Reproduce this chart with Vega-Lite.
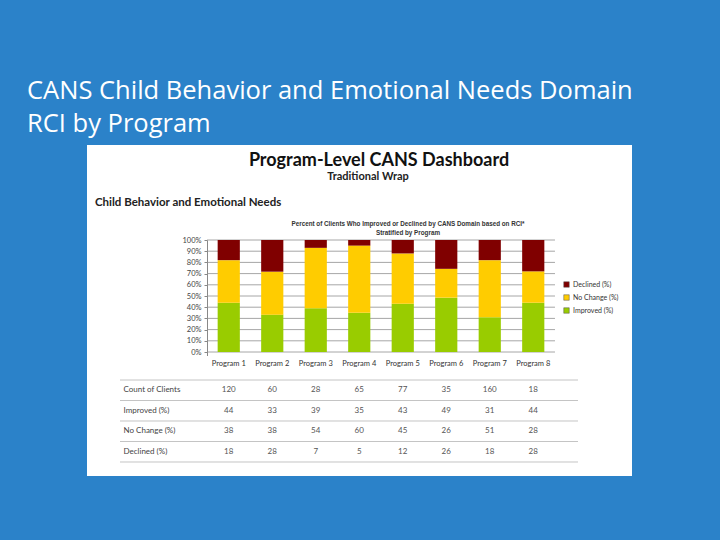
{
  "$schema": "https://vega.github.io/schema/vega-lite/v6.json",
  "background": "#2b82c9",
  "padding": {"left": 27, "top": 78, "right": 88, "bottom": 65},
  "title": {
    "text": ["CANS Child Behavior and Emotional Needs Domain", "RCI by Program"],
    "anchor": "start",
    "dx": -60,
    "color": "#ffffff",
    "font": "Open Sans",
    "fontSize": 25.5,
    "fontWeight": "normal",
    "lineHeight": 33,
    "offset": 8
  },
  "config": {
    "view": {"fill": "#ffffff", "stroke": null},
    "concat": {"spacing": 0},
    "font": "Lato"
  },
  "datasets": {
    "header": [
      {"part": "main", "text": "Program-Level CANS Dashboard"},
      {"part": "sub", "text": "Traditional Wrap"},
      {"part": "section", "text": "Child Behavior and Emotional Needs"},
      {"part": "ctitle", "text": ["Percent of Clients Who Improved or Declined by CANS Domain based on RCI*", "Stratified by Program"]}
    ],
    "grid": [
      {"v": 0}, {"v": 0.1}, {"v": 0.2}, {"v": 0.3}, {"v": 0.4}, {"v": 0.5},
      {"v": 0.6}, {"v": 0.7}, {"v": 0.8}, {"v": 0.9}, {"v": 1}
    ],
    "bars": [
      {"program": "Program 1", "status": "Improved (%)", "pct": 44},
      {"program": "Program 1", "status": "No Change (%)", "pct": 38},
      {"program": "Program 1", "status": "Declined (%)", "pct": 18},
      {"program": "Program 2", "status": "Improved (%)", "pct": 33},
      {"program": "Program 2", "status": "No Change (%)", "pct": 38},
      {"program": "Program 2", "status": "Declined (%)", "pct": 28},
      {"program": "Program 3", "status": "Improved (%)", "pct": 39},
      {"program": "Program 3", "status": "No Change (%)", "pct": 54},
      {"program": "Program 3", "status": "Declined (%)", "pct": 7},
      {"program": "Program 4", "status": "Improved (%)", "pct": 35},
      {"program": "Program 4", "status": "No Change (%)", "pct": 60},
      {"program": "Program 4", "status": "Declined (%)", "pct": 5},
      {"program": "Program 5", "status": "Improved (%)", "pct": 43},
      {"program": "Program 5", "status": "No Change (%)", "pct": 45},
      {"program": "Program 5", "status": "Declined (%)", "pct": 12},
      {"program": "Program 6", "status": "Improved (%)", "pct": 49},
      {"program": "Program 6", "status": "No Change (%)", "pct": 26},
      {"program": "Program 6", "status": "Declined (%)", "pct": 26},
      {"program": "Program 7", "status": "Improved (%)", "pct": 31},
      {"program": "Program 7", "status": "No Change (%)", "pct": 51},
      {"program": "Program 7", "status": "Declined (%)", "pct": 18},
      {"program": "Program 8", "status": "Improved (%)", "pct": 44},
      {"program": "Program 8", "status": "No Change (%)", "pct": 28},
      {"program": "Program 8", "status": "Declined (%)", "pct": 28}
    ],
    "table": [
      {"program": "Program 1", "measure": "Count of Clients", "value": 120},
      {"program": "Program 2", "measure": "Count of Clients", "value": 60},
      {"program": "Program 3", "measure": "Count of Clients", "value": 28},
      {"program": "Program 4", "measure": "Count of Clients", "value": 65},
      {"program": "Program 5", "measure": "Count of Clients", "value": 77},
      {"program": "Program 6", "measure": "Count of Clients", "value": 35},
      {"program": "Program 7", "measure": "Count of Clients", "value": 160},
      {"program": "Program 8", "measure": "Count of Clients", "value": 18},
      {"program": "Program 1", "measure": "Improved (%)", "value": 44},
      {"program": "Program 2", "measure": "Improved (%)", "value": 33},
      {"program": "Program 3", "measure": "Improved (%)", "value": 39},
      {"program": "Program 4", "measure": "Improved (%)", "value": 35},
      {"program": "Program 5", "measure": "Improved (%)", "value": 43},
      {"program": "Program 6", "measure": "Improved (%)", "value": 49},
      {"program": "Program 7", "measure": "Improved (%)", "value": 31},
      {"program": "Program 8", "measure": "Improved (%)", "value": 44},
      {"program": "Program 1", "measure": "No Change (%)", "value": 38},
      {"program": "Program 2", "measure": "No Change (%)", "value": 38},
      {"program": "Program 3", "measure": "No Change (%)", "value": 54},
      {"program": "Program 4", "measure": "No Change (%)", "value": 60},
      {"program": "Program 5", "measure": "No Change (%)", "value": 45},
      {"program": "Program 6", "measure": "No Change (%)", "value": 26},
      {"program": "Program 7", "measure": "No Change (%)", "value": 51},
      {"program": "Program 8", "measure": "No Change (%)", "value": 28},
      {"program": "Program 1", "measure": "Declined (%)", "value": 18},
      {"program": "Program 2", "measure": "Declined (%)", "value": 28},
      {"program": "Program 3", "measure": "Declined (%)", "value": 7},
      {"program": "Program 4", "measure": "Declined (%)", "value": 5},
      {"program": "Program 5", "measure": "Declined (%)", "value": 12},
      {"program": "Program 6", "measure": "Declined (%)", "value": 26},
      {"program": "Program 7", "measure": "Declined (%)", "value": 18},
      {"program": "Program 8", "measure": "Declined (%)", "value": 28}
    ]
  },
  "spacing": 0,
  "bounds": "flush",
  "resolve": {"scale": {"x": "independent", "y": "independent", "color": "independent"}},
  "vconcat": [
    {
      "width": 545,
      "height": 95,
      "data": {"name": "header"},
      "layer": [
        {
          "transform": [{"filter": "datum.part == 'main'"}],
          "mark": {"type": "text", "font": "Lato", "fontSize": 18, "fontWeight": "bold", "fill": "#111111", "dx": 19.5, "baseline": "middle"},
          "encoding": {
            "y": {"field": "part", "type": "nominal", "scale": {"type": "point", "domain": ["main", "sub", "section", "ctitle"], "padding": 0.728}, "axis": null},
            "text": {"field": "text"}
          }
        },
        {
          "transform": [{"filter": "datum.part == 'sub'"}],
          "mark": {"type": "text", "font": "Lato", "fontSize": 11, "fontWeight": "bold", "fill": "#222222", "dx": 8.5, "dy": -5, "baseline": "middle"},
          "encoding": {
            "y": {"field": "part", "type": "nominal", "scale": {"type": "point", "domain": ["main", "sub", "section", "ctitle"], "padding": 0.728}, "axis": null},
            "text": {"field": "text"}
          }
        },
        {
          "transform": [{"filter": "datum.part == 'section'"}],
          "mark": {"type": "text", "font": "Lato", "fontSize": 11.5, "fontWeight": "bold", "fill": "#222222", "align": "left", "dx": -264.5, "baseline": "middle"},
          "encoding": {
            "y": {"field": "part", "type": "nominal", "scale": {"type": "point", "domain": ["main", "sub", "section", "ctitle"], "padding": 0.728}, "axis": null},
            "text": {"field": "text"}
          }
        },
        {
          "transform": [{"filter": "datum.part == 'ctitle'"}],
          "mark": {"type": "text", "font": "Liberation Sans", "fontSize": 6.3, "fontWeight": "bold", "fill": "#333333", "dx": 48.5, "baseline": "middle", "lineHeight": 9},
          "encoding": {
            "y": {"field": "part", "type": "nominal", "scale": {"type": "point", "domain": ["main", "sub", "section", "ctitle"], "padding": 0.728}, "axis": null},
            "text": {"field": "text"}
          }
        }
      ]
    },
    {
      "width": 545,
      "height": 116,
      "layer": [
        {
          "data": {"name": "grid"},
          "mark": {"type": "rule", "color": "#8f8f8f", "strokeWidth": 0.8},
          "encoding": {
            "x": {"datum": "Program 1", "type": "nominal", "bandPosition": -0.48,
                  "scale": {"type": "band", "domain": ["Program 1", "Program 2", "Program 3", "Program 4", "Program 5", "Program 6", "Program 7", "Program 8"], "range": [120, 468], "paddingInner": 0.49, "paddingOuter": 0.245},
                  "axis": null},
            "x2": {"datum": "Program 8", "bandPosition": 1.48},
            "y": {"field": "v", "type": "quantitative", "scale": {"domain": [-0.0357, 1], "nice": false, "zero": false},
                  "axis": {"offset": -120, "values": [0, 0.1, 0.2, 0.3, 0.4, 0.5, 0.6, 0.7, 0.8, 0.9, 1], "format": ".0%", "grid": false, "title": null, "labelFont": "Lato", "labelFontSize": 7.5, "labelColor": "#444444", "tickSize": 3, "tickColor": "#888888", "domainColor": "#888888", "labelPadding": 3}}
          }
        },
        {
          "data": {"name": "bars"},
          "transform": [{"calculate": "indexof(['Improved (%)', 'No Change (%)', 'Declined (%)'], datum.status)", "as": "stackOrder"}],
          "mark": {"type": "bar"},
          "encoding": {
            "x": {"field": "program", "type": "nominal",
                  "scale": {"type": "band", "domain": ["Program 1", "Program 2", "Program 3", "Program 4", "Program 5", "Program 6", "Program 7", "Program 8"], "range": [120, 468], "paddingInner": 0.49, "paddingOuter": 0.245},
                  "axis": null},
            "y": {"field": "pct", "type": "quantitative", "stack": "normalize", "scale": {"domain": [-0.0357, 1], "nice": false, "zero": false},
                  "axis": {"offset": -120, "values": [0, 0.1, 0.2, 0.3, 0.4, 0.5, 0.6, 0.7, 0.8, 0.9, 1], "format": ".0%", "grid": false, "title": null, "labelFont": "Lato", "labelFontSize": 7.5, "labelColor": "#444444", "tickSize": 3, "tickColor": "#888888", "domainColor": "#888888", "labelPadding": 3}},
            "order": {"field": "stackOrder", "type": "quantitative", "sort": "ascending"},
            "color": {"field": "status", "type": "nominal",
                      "scale": {"domain": ["Declined (%)", "No Change (%)", "Improved (%)"], "range": ["#800000", "#ffcc00", "#99cc00"]},
                      "legend": {"orient": "none", "legendX": 476, "legendY": 41, "title": null, "values": ["Declined (%)", "No Change (%)", "Improved (%)"], "symbolType": "square", "symbolSize": 30, "symbolStrokeColor": "#555555", "symbolStrokeWidth": 0.5, "labelFont": "Lato", "labelFontSize": 7, "labelColor": "#333333", "rowPadding": 4, "labelOffset": 3}}
          }
        }
      ]
    },
    {
      "width": 545,
      "height": 120,
      "data": {"name": "table"},
      "layer": [
        {
          "transform": [{"filter": "datum.program == 'Program 1'"}],
          "mark": {"type": "rule", "color": "#c4c4c4", "strokeWidth": 1},
          "encoding": {
            "x": {"datum": "Program 1", "type": "nominal", "bandPosition": -4.402,
                  "scale": {"type": "band", "domain": ["Program 1", "Program 2", "Program 3", "Program 4", "Program 5", "Program 6", "Program 7", "Program 8"], "range": [120, 468], "paddingInner": 0.49, "paddingOuter": 0.245},
                  "axis": null},
            "x2": {"datum": "Program 8", "bandPosition": 2.517},
            "y": {"field": "measure", "type": "nominal", "bandPosition": 0,
                  "scale": {"type": "band", "domain": ["Program", "Count of Clients", "Improved (%)", "No Change (%)", "Declined (%)"], "paddingInner": 0, "paddingOuter": 0.427, "align": 0.2},
                  "axis": {"orient": "left", "offset": -36, "labelAlign": "left", "labelPadding": 0, "ticks": false, "tickSize": 0, "domain": false, "grid": false, "title": null, "values": ["Count of Clients", "Improved (%)", "No Change (%)", "Declined (%)"], "labelFont": "Lato", "labelFontSize": 8, "labelColor": "#444444", "labelBaseline": "middle"}}
          }
        },
        {
          "transform": [{"filter": "datum.program == 'Program 1' && datum.measure == 'Declined (%)'"}],
          "mark": {"type": "rule", "color": "#c4c4c4", "strokeWidth": 1},
          "encoding": {
            "x": {"datum": "Program 1", "type": "nominal", "bandPosition": -4.402,
                  "scale": {"type": "band", "domain": ["Program 1", "Program 2", "Program 3", "Program 4", "Program 5", "Program 6", "Program 7", "Program 8"], "range": [120, 468], "paddingInner": 0.49, "paddingOuter": 0.245},
                  "axis": null},
            "x2": {"datum": "Program 8", "bandPosition": 2.517},
            "y": {"field": "measure", "type": "nominal", "bandPosition": 1,
                  "scale": {"type": "band", "domain": ["Program", "Count of Clients", "Improved (%)", "No Change (%)", "Declined (%)"], "paddingInner": 0, "paddingOuter": 0.427, "align": 0.2}}
          }
        },
        {
          "mark": {"type": "text", "font": "Lato", "fontSize": 8, "fill": "#555555", "baseline": "middle"},
          "encoding": {
            "x": {"field": "program", "type": "nominal",
                  "scale": {"type": "band", "domain": ["Program 1", "Program 2", "Program 3", "Program 4", "Program 5", "Program 6", "Program 7", "Program 8"], "range": [120, 468], "paddingInner": 0.49, "paddingOuter": 0.245},
                  "axis": null},
            "y": {"field": "measure", "type": "nominal",
                  "scale": {"type": "band", "domain": ["Program", "Count of Clients", "Improved (%)", "No Change (%)", "Declined (%)"], "paddingInner": 0, "paddingOuter": 0.427, "align": 0.2}},
            "text": {"field": "value"}
          }
        },
        {
          "transform": [{"filter": "datum.measure == 'Count of Clients'"}],
          "mark": {"type": "text", "font": "Lato", "fontSize": 7.5, "fill": "#333333", "baseline": "middle", "dy": -6},
          "encoding": {
            "x": {"field": "program", "type": "nominal",
                  "scale": {"type": "band", "domain": ["Program 1", "Program 2", "Program 3", "Program 4", "Program 5", "Program 6", "Program 7", "Program 8"], "range": [120, 468], "paddingInner": 0.49, "paddingOuter": 0.245},
                  "axis": null},
            "y": {"datum": "Program", "type": "nominal",
                  "scale": {"type": "band", "domain": ["Program", "Count of Clients", "Improved (%)", "No Change (%)", "Declined (%)"], "paddingInner": 0, "paddingOuter": 0.427, "align": 0.2}},
            "text": {"field": "program"}
          }
        }
      ]
    }
  ]
}
